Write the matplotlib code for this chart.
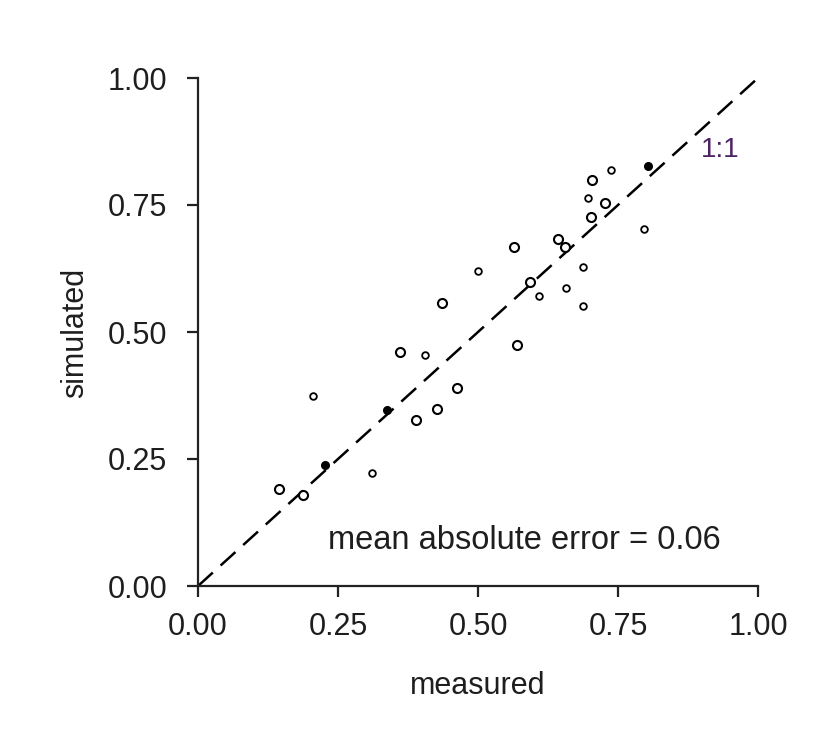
import matplotlib
matplotlib.use("Agg")
import matplotlib.pyplot as plt

plt.rcParams['font.family'] = ['Liberation Sans', 'DejaVu Sans']

# open circles (regular)
meas_open = [0.145, 0.188, 0.360, 0.389, 0.427, 0.435, 0.462, 0.564, 0.570,
             0.592, 0.642, 0.655, 0.703, 0.702, 0.727]
sim_open = [0.190, 0.179, 0.461, 0.327, 0.348, 0.558, 0.390, 0.668, 0.474,
            0.599, 0.684, 0.668, 0.799, 0.726, 0.753]
# small open markers
meas_small = [0.205, 0.311, 0.405, 0.500, 0.609, 0.657, 0.687, 0.687, 0.697,
              0.737, 0.797]
sim_small = [0.374, 0.222, 0.455, 0.621, 0.571, 0.587, 0.627, 0.552, 0.763,
             0.818, 0.702]
# filled markers
meas_filled = [0.227, 0.338, 0.804]
sim_filled = [0.238, 0.346, 0.827]

one_to_one = [0.0, 1.0]
ticks = [0.0, 0.25, 0.5, 0.75, 1.0]
tick_labels = ['0.00', '0.25', '0.50', '0.75', '1.00']

W, H = 821, 749
fig = plt.figure(figsize=(W / 100, H / 100), dpi=100)
L, R, T, B = 198, 758, 78, 586
ax = fig.add_axes([L / W, 1 - B / H, (R - L) / W, (B - T) / H])

txt = '#1e1e1e'
ax.plot(one_to_one, one_to_one, color='black', lw=1.8, dashes=(8, 4.2), zorder=2)
ax.plot(meas_open, sim_open, 'o', ms=6.5, mfc='white', mec='black', mew=1.5,
        zorder=3, clip_on=False)
ax.plot(meas_small, sim_small, 'o', ms=4.8, mfc='white', mec='black', mew=1.3,
        zorder=3, clip_on=False)
ax.plot(meas_filled, sim_filled, 'o', ms=5.5, mfc='black', mec='black', mew=1,
        zorder=4, clip_on=False)

ax.set_xlim(0, 1)
ax.set_ylim(0, 1)
ax.set_xticks(ticks)
ax.set_xticklabels(tick_labels)
ax.set_yticks(ticks)
ax.set_yticklabels(tick_labels)
for s in ['top', 'right']:
    ax.spines[s].set_visible(False)
for s in ['left', 'bottom']:
    ax.spines[s].set_linewidth(1.6)
    ax.spines[s].set_color('#222222')
ax.tick_params(axis='both', direction='out', length=8, width=1.6,
               color='#222222', labelsize=22, labelcolor=txt)
ax.tick_params(axis='x', pad=11)
ax.tick_params(axis='y', pad=14)

ax.text(0.583, 0.09, 'mean absolute error = 0.06', ha='center', va='center',
        fontsize=23.5, color=txt)
ax.text(0.932, 0.858, '1:1', ha='center', va='center', fontsize=20,
        color='#4e2363')

fig.text(75 / W, 1 - 333 / H, 'simulated', rotation=90, ha='center',
         va='center', fontsize=22, color=txt)
fig.text(478 / W, 1 - 686 / H, 'measured', ha='center', va='center',
         fontsize=22, color=txt)

fig.savefig('out.png', dpi=100, facecolor='white')
